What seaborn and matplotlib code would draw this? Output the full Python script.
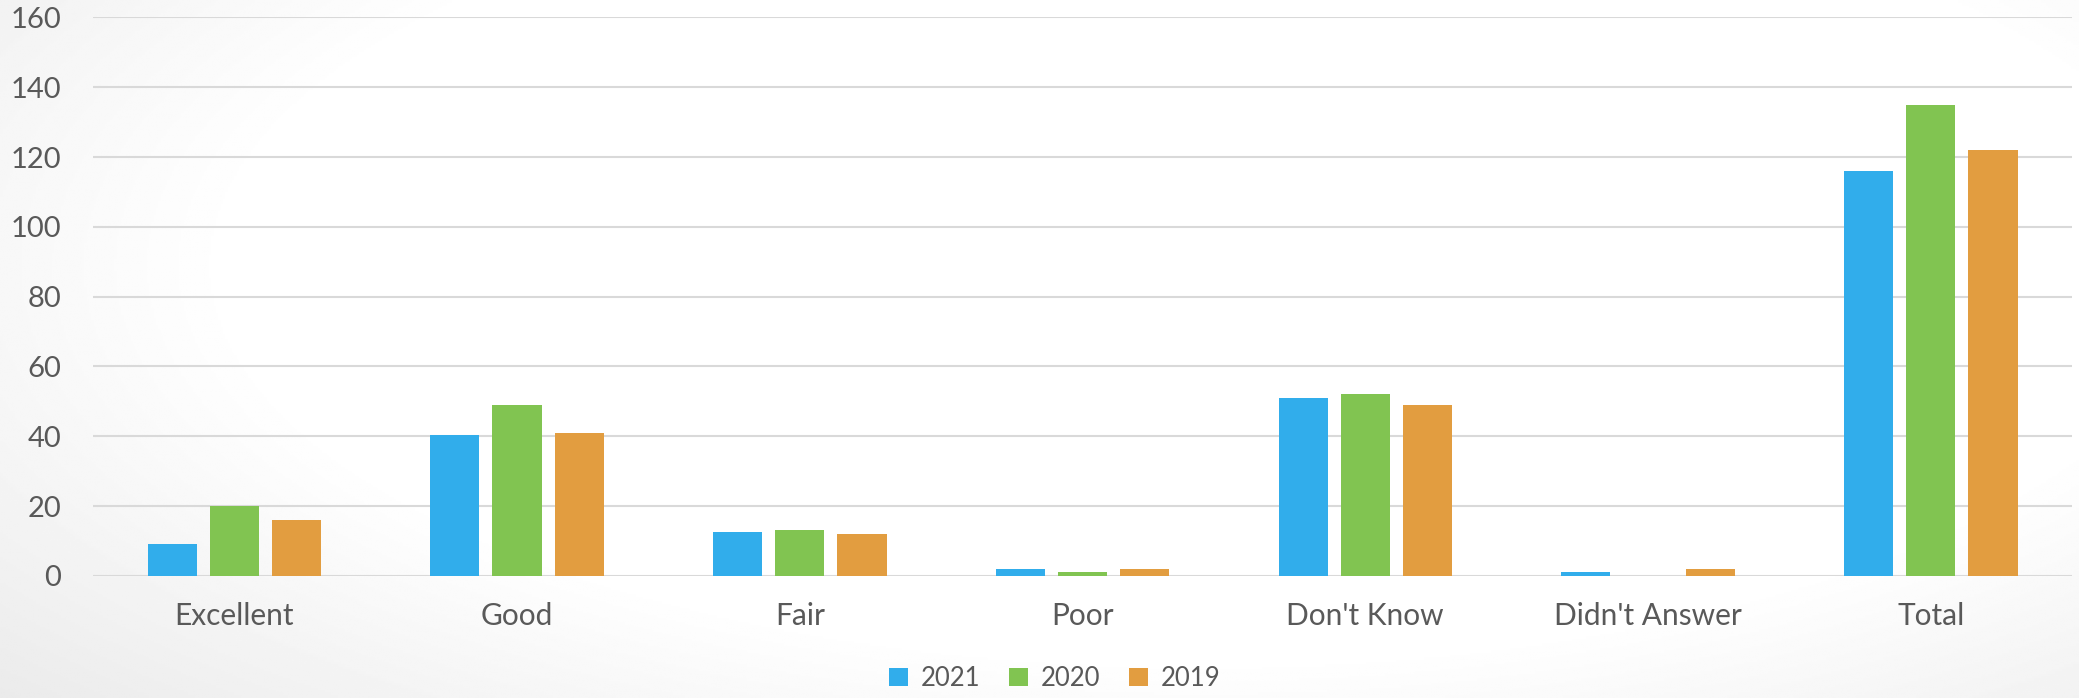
import numpy as np
import pandas as pd
import matplotlib.pyplot as plt
import seaborn as sns

# Dados
categories = ["Excellent", "Good", "Fair", "Poor", "Don't Know", "Didn't Answer", "Total"]
years = ["2021", "2020", "2019"]
v2021 = [9, 40.5, 12.5, 2, 51, 1, 116]
v2020 = [20, 49, 13, 1, 52, 0, 135]
v2019 = [16, 41, 12, 2, 49, 2, 122]
colors = ["#31ADEB", "#81C451", "#E29D40"]

df = pd.DataFrame({
    "Category": categories * 3,
    "Year": [y for y in years for _ in categories],
    "Count": v2021 + v2020 + v2019,
})

sns.set_style("white")
plt.rcParams["font.family"] = ["Lato", "DejaVu Sans"]
text_color = "#595959"

fig = plt.figure(figsize=(20.79, 6.98), dpi=100)

# fundo com gradiente suave (mais claro no centro)
bg = fig.add_axes([0, 0, 1, 1], zorder=-10)
yy, xx = np.mgrid[0:1:300j, 0:1:900j]
r = np.sqrt(((xx - 0.58) / 0.62) ** 2 + ((yy - 0.62) / 0.75) ** 2)
shade = 1 - 0.16 * np.clip(r - 0.75, 0, None)
bg.imshow(shade, cmap="gray", vmin=0, vmax=1, aspect="auto", extent=[0, 1, 0, 1], origin="lower")
bg.axis("off")

ax = fig.add_axes([0.0447, 0.175, 0.952, 0.80])
ax.patch.set_alpha(0)
sns.barplot(data=df, x="Category", y="Count", hue="Year", palette=colors, saturation=1,
            width=0.66, gap=0.21, ax=ax, zorder=3, edgecolor="none")

ax.set_ylim(0, 160)
ax.set_yticks(range(0, 161, 20))
ax.set_xlim(-0.5, len(categories) - 0.5)
ax.yaxis.grid(True, color="#d9d9d9", linewidth=1.5, zorder=0)
ax.set_axisbelow(True)
for s in ax.spines.values():
    s.set_visible(False)
ax.set_xlabel("")
ax.set_ylabel("")
ax.tick_params(axis="y", length=0, pad=23, labelsize=21, labelcolor=text_color)
ax.tick_params(axis="x", length=0, pad=19, labelsize=21.5, labelcolor=text_color)

handles, labels = ax.get_legend_handles_labels()
ax.get_legend().remove()
fig.legend(handles, labels, loc="center", bbox_to_anchor=(1055 / 2079, 0.028), ncol=3,
           frameon=False, fontsize=18.5, labelcolor=text_color, handlelength=0.75,
           handleheight=0.75, handletextpad=0.5, columnspacing=1.1)

fig.savefig("out.png", dpi=100)
